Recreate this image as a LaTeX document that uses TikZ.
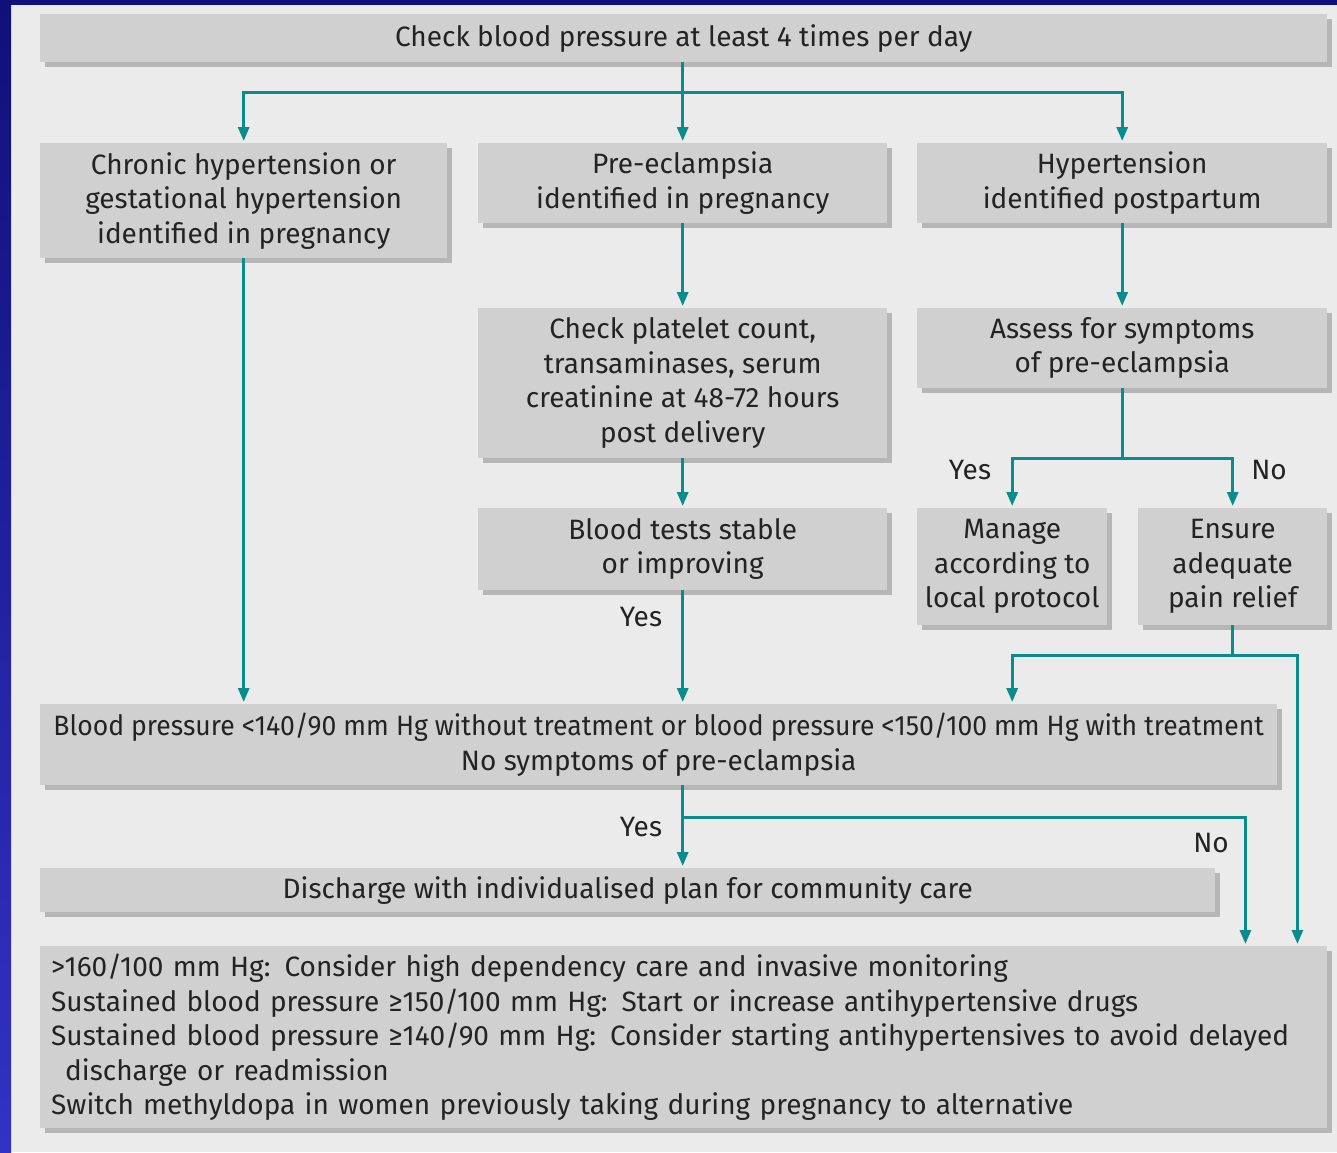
\documentclass[tikz,border=0pt]{standalone}
\usepackage{fontspec}
\usepackage{graphicx}
\setmainfont{Fira Sans}
\usetikzlibrary{arrows.meta,shadows,calc}
\definecolor{bg}{HTML}{EBEBEB}
\definecolor{boxg}{HTML}{D0D0D0}
\definecolor{shad}{HTML}{B6B6B6}
\definecolor{tealc}{HTML}{0A8C8C}
\definecolor{txt}{HTML}{232323}
\definecolor{navy}{HTML}{10107A}
\definecolor{blueb}{HTML}{3232C4}
\tikzset{
  box/.style={fill=boxg, inner sep=0pt, anchor=north west, align=center, text=txt,
    drop shadow={shadow xshift=5pt, shadow yshift=-5pt, fill=shad, opacity=1}},
  arr/.style={draw=tealc, line width=3pt, shorten >=2pt, -{Triangle[length=14pt,width=11pt]}},
  conn/.style={draw=tealc, line width=3pt},
  lbl/.style={text=txt, inner sep=0pt}
}
\begin{document}
\begin{tikzpicture}[x=1pt,y=-1pt, font=\fontsize{28}{34.5}\selectfont]
\useasboundingbox (0,0) rectangle (1337,1152);
\fill[bg] (0,0) rectangle (1337,1152);
\shade[top color=navy, bottom color=blueb] (0,0) rectangle (11,1152);
\fill[navy] (0,0) rectangle (1337,5);

\node[box, minimum width=1287pt, minimum height=48pt] (top) at (40,14) {Check blood pressure at least 4 times per day};
\node[box, minimum width=407pt, minimum height=115pt] (chronic) at (40,143) {Chronic hypertension or\\gestational hypertension\\identified in pregnancy};
\node[box, minimum width=409pt, minimum height=80pt] (pre) at (478,143) {Pre-eclampsia\\identified in pregnancy};
\node[box, minimum width=410pt, minimum height=80pt] (hyp) at (917,143) {Hypertension\\identified postpartum};
\node[box, minimum width=409pt, minimum height=150pt] (plat) at (478,308) {Check platelet count,\\transaminases, serum\\creatinine at 48-72 hours\\post delivery};
\node[box, minimum width=410pt, minimum height=80pt] (assess) at (917,308) {Assess for symptoms\\of pre-eclampsia};
\node[box, minimum width=409pt, minimum height=82pt] (blood) at (478,508) {Blood tests stable\\or improving};
\node[box, minimum width=190pt, minimum height=117pt] (manage) at (917,508) {Manage\\according to\\local protocol};
\node[box, minimum width=189pt, minimum height=117pt] (ensure) at (1138,508) {Ensure\\adequate\\pain relief};
\node[box, minimum width=1237pt, minimum height=81pt] (bp) at (40,704) {\scalebox{0.948}[1]{Blood pressure <140/90 mm Hg without treatment or blood pressure <150/100 mm Hg with treatment}\\No symptoms of pre-eclampsia};
\node[box, minimum width=1175pt, minimum height=44pt] (disc) at (40,868) {Discharge with individualised plan for community care};
\node[box, minimum width=1287pt, minimum height=182pt, text width=1265pt, inner xsep=11pt, align=left] (bottom) at (40,946) {>160/100 mm Hg: Consider high dependency care and invasive monitoring\\
Sustained blood pressure ≥150/100 mm Hg: Start or increase antihypertensive drugs\\
Sustained blood pressure ≥140/90 mm Hg: Consider starting antihypertensives to avoid delayed\\
\hspace*{0.5em}discharge or readmission\\
Switch methyldopa in women previously taking during pregnancy to alternative};

\node[lbl] (yes1) at (641,617) {Yes};
\node[lbl] (yes2) at (970,470) {Yes};
\node[lbl] (no2) at (1269,470) {No};
\node[lbl] (yes3) at (641,827) {Yes};
\node[lbl] (no3) at (1211,843) {No};

\coordinate (j1) at ($(top.south -| pre.north)+(0,30)$);
\draw[conn] (top.south -| pre.north) -- (j1);
\draw[arr] (j1) -- (pre.north);
\draw[arr] (j1) -| (chronic.north);
\draw[arr] (j1) -| (hyp.north);
\draw[arr] (chronic.south) -- (chronic.south |- bp.north);
\draw[arr] (pre.south) -- (plat.north);
\draw[arr] (plat.south) -- (blood.north);
\draw[arr] (blood.south) -- (blood.south |- bp.north);
\draw[arr] (hyp.south) -- (assess.north);
\coordinate (j2) at ($(assess.south)+(0,70)$);
\draw[conn] (assess.south) -- (j2);
\draw[arr] (j2) -| (manage.north);
\draw[arr] (j2) -| (ensure.north);
\coordinate (j3) at ($(ensure.south)+(0,30)$);
\draw[conn] (ensure.south) -- (j3);
\draw[arr] (j3) -| (manage.south |- bp.north);
\draw[arr] (j3) -| ($(bottom.north east)+(-30,0)$);
\coordinate (j4) at ($(blood.south |- bp.south)+(0,32)$);
\draw[arr] (blood.south |- bp.south) -- (blood.south |- disc.north);
\draw[arr] (j4) -| ($(bottom.north east)+(-82,0)$);
\end{tikzpicture}
\end{document}
